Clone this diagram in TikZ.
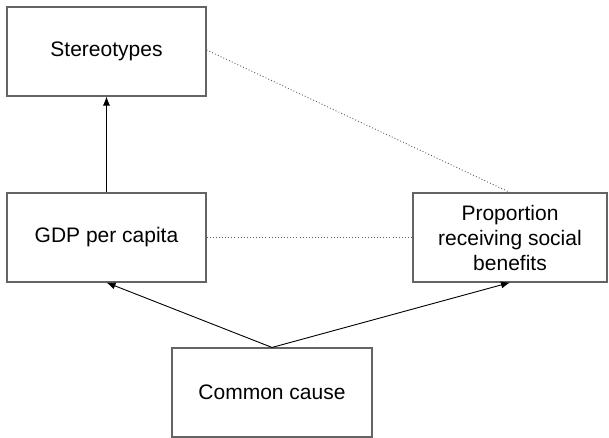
\documentclass[tikz,border=0pt]{standalone}
\usepackage{fontspec}
\setmainfont{Liberation Sans}
\usetikzlibrary{arrows.meta}
\definecolor{boxgray}{RGB}{100,100,100}
\definecolor{dotgray}{RGB}{90,90,90}
\tikzset{
  box/.style={draw=boxgray, line width=1.1pt, fill=white, inner sep=0pt, align=center,
    font=\fontsize{21}{25}\selectfont},
  causal/.style={draw=black, line width=0.9pt, -{Latex[length=9pt,width=7pt]}},
  corr/.style={draw=dotgray, line width=0.9pt, dash pattern=on 0.9pt off 2.2pt}
}
\begin{document}
\begin{tikzpicture}[x=1pt,y=-1pt]
\useasboundingbox (0,0) rectangle (609,438);
\node[box, minimum width=199pt, minimum height=89pt] (st) at (106.5,51.5) {Stereotypes};
\node[box, minimum width=199pt, minimum height=89pt] (gdp) at (106.5,237.5) {GDP per capita};
\node[box, minimum width=194pt, minimum height=89pt] (pr) at (510,237.5) {Proportion\\receiving social\\benefits};
\node[box, minimum width=200pt, minimum height=89pt] (cc) at (272,392.5) {Common cause};
\draw[causal] (gdp.north) -- (st.south);
\draw[corr] ([yshift=1.5pt]st.east) -- (pr.north);
\draw[corr] (gdp.east) -- (pr.west);
\draw[causal] (cc.north) -- (gdp.south);
\draw[causal] (cc.north) -- (pr.south);
\end{tikzpicture}
\end{document}
